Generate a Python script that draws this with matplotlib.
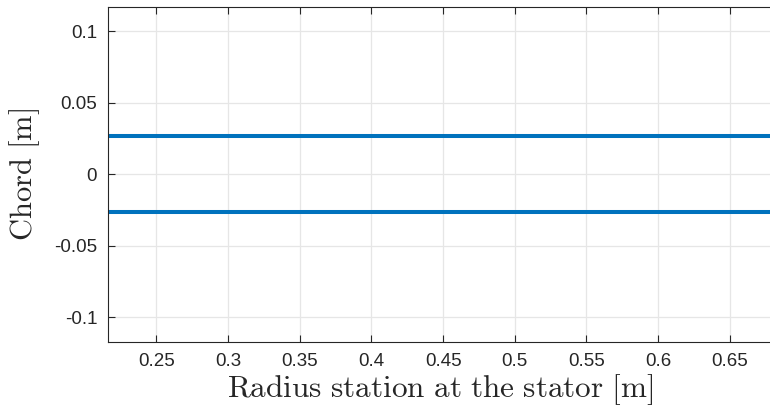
import matplotlib.pyplot as plt
import numpy as np

plt.rcParams['mathtext.fontset'] = 'cm'
plt.rcParams['font.family'] = ['Liberation Sans', 'DejaVu Sans']

# blade chord outline along the stator radius
radius = [0.2165, 0.678]
chord_upper = [0.0265, 0.0265]
chord_lower = [-0.0265, -0.0265]

xticks = [0.25, 0.3, 0.35, 0.4, 0.45, 0.5, 0.55, 0.6, 0.65]
yticks = [-0.1, -0.05, 0, 0.05, 0.1]

axis_col = '#262626'

fig = plt.figure(figsize=(7.7, 4.15), dpi=100)
ax = fig.add_axes([0.1407, 0.1766, 0.862, 0.807])

ax.plot(radius, chord_upper, color='#0072BD', lw=2.9, solid_capstyle='butt')
ax.plot(radius, chord_lower, color='#0072BD', lw=2.9, solid_capstyle='butt')

ax.set_xlim(0.2165, 0.6795)
ax.set_ylim(-0.117, 0.117)
ax.set_xticks(xticks)
ax.set_xticklabels(['0.25', '0.3', '0.35', '0.4', '0.45', '0.5', '0.55', '0.6', '0.65'])
ax.set_yticks(yticks)
ax.set_yticklabels(['-0.1', '-0.05', '0', '0.05', '0.1'])

ax.grid(True, color='#e6e6e6', lw=0.9)
ax.set_axisbelow(True)
ax.tick_params(direction='in', length=5, width=0.8, colors=axis_col,
               labelsize=13.5, top=True, right=False, pad=8)
# right edge of the box falls just outside the figure
ax.spines['right'].set_visible(False)
for s in ax.spines.values():
    s.set_color(axis_col)
    s.set_linewidth(0.8)

ax.set_xlabel(r'$\mathrm{Radius\ station\ at\ the\ stator\ [m]}$', fontsize=22.5, color=axis_col, labelpad=2)
ax.set_ylabel(r'$\mathrm{Chord\ [m]}$', fontsize=22, color=axis_col, labelpad=9)

fig.savefig('out.png', dpi=100)
